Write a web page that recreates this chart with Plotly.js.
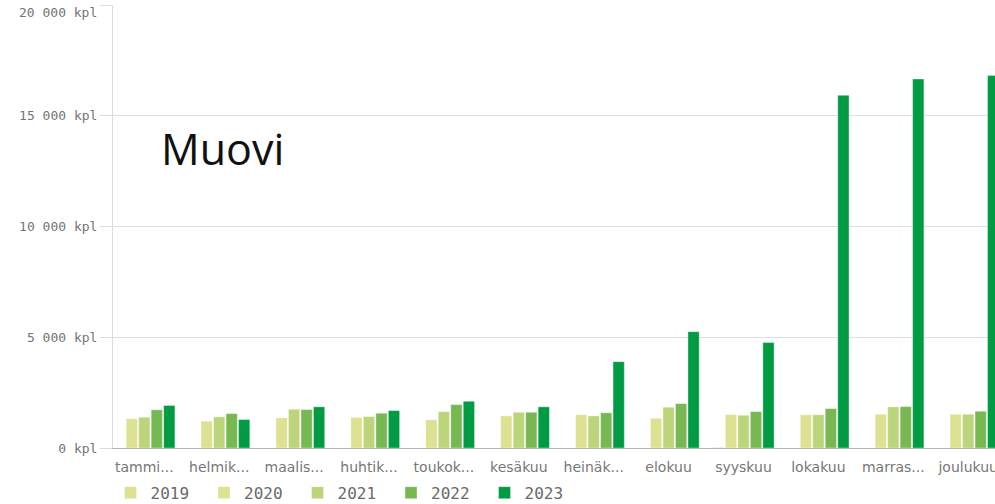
<!DOCTYPE html>
<html>
<head>
<meta charset="utf-8">
<script src="https://cdn.plot.ly/plotly-3.0.1.min.js"></script>
<style>
html,body{margin:0;padding:0;background:#fff;overflow:hidden;}
#chart{width:995px;height:504px;}
</style>
</head>
<body>
<div id="chart"></div>
<script>
var months = ["tammi...", "helmik...", "maalis...", "huhtik...", "toukok...", "kesäkuu", "heinäk...", "elokuu", "syyskuu", "lokakuu", "marras...", "joulukuu"];
var years = ["2019", "2020", "2021", "2022", "2023"];
var v2019 = [0, 0, 0, 0, 0, 0, 0, 0, 30, 0, 0, 0];
var v2020 = [1320, 1210, 1360, 1375, 1270, 1450, 1500, 1345, 1510, 1500, 1525, 1525];
var v2021 = [1390, 1405, 1750, 1420, 1645, 1615, 1450, 1840, 1480, 1500, 1860, 1525];
var v2022 = [1725, 1555, 1735, 1570, 1960, 1615, 1590, 2005, 1645, 1780, 1870, 1660];
var v2023 = [1920, 1285, 1860, 1690, 2110, 1860, 3900, 5255, 4760, 15930, 16665, 16830];
var colors = ["#dce291", "#dce291", "#bdd57a", "#77b853", "#009b43"];
var tickVals = [0, 5000, 10000, 15000, 20000];
var tickLabels = ["0 kpl", "5 000 kpl", "10 000 kpl", "15 000 kpl", "20 000 kpl"];
var chartTitle = "Muovi";

var series = [v2019, v2020, v2021, v2022, v2023];
var traces = series.map(function (vals, i) {
  return {
    type: "bar",
    name: years[i],
    x: months,
    y: vals,
    marker: {color: colors[i], line: {color: "rgba(255,255,255,0.45)", width: 0.8}},
    hoverinfo: "skip"
  };
});

// the top label is placed just below its gridline (as in the reference), the rest on the axis
var axisText = tickLabels.slice(0, tickLabels.length - 1).concat([""]);
var tickFont = {family: "DejaVu Sans Mono", size: 13, color: "#747474"};

var layout = {
  width: 995,
  height: 504,
  margin: {l: 113, r: 0, t: 5, b: 56, pad: 0, autoexpand: false},
  paper_bgcolor: "#ffffff",
  plot_bgcolor: "#ffffff",
  barmode: "group",
  bargap: 0.166,
  bargroupgap: 0.1,
  showlegend: true,
  legend: {
    orientation: "h",
    x: -0.0028,
    xanchor: "left",
    y: -0.101,
    yanchor: "middle",
    font: {family: "DejaVu Sans Mono", size: 16, color: "#6a6a6a"},
    itemwidth: 30,
    entrywidth: 48.5,
    entrywidthmode: "pixels",
    bgcolor: "rgba(0,0,0,0)",
    traceorder: "normal"
  },
  xaxis: {
    type: "category",
    range: [-0.418, 11.358],
    showline: true,
    linecolor: "#b5b5b5",
    linewidth: 1,
    showgrid: false,
    zeroline: false,
    ticks: "outside",
    ticklen: 6,
    tickcolor: "rgba(0,0,0,0)",
    tickfont: {family: "DejaVu Sans", size: 14, color: "#777777"},
    fixedrange: true
  },
  yaxis: {
    range: [0, 20010],
    tickmode: "array",
    tickvals: tickVals,
    ticktext: axisText,
    showline: true,
    linecolor: "#dcdcdc",
    linewidth: 1,
    showgrid: true,
    gridcolor: "#dedede",
    gridwidth: 1,
    zeroline: false,
    ticks: "outside",
    ticklen: 12,
    tickcolor: "#dcdcdc",
    tickfont: tickFont,
    fixedrange: true
  },
  annotations: [{
    text: chartTitle,
    xref: "paper",
    yref: "paper",
    x: 0.052,
    y: 0.675,
    xanchor: "left",
    yanchor: "middle",
    showarrow: false,
    font: {family: "Open Sans", size: 43, color: "#111111"}
  }, {
    text: tickLabels[tickLabels.length - 1],
    xref: "paper",
    yref: "paper",
    x: -15 / 882,
    y: (448 - 12.5) / 443,
    xanchor: "right",
    yanchor: "middle",
    showarrow: false,
    borderpad: 0,
    font: tickFont
  }]
};

Plotly.newPlot("chart", traces, layout, {displayModeBar: false, staticPlot: true});
</script>
</body>
</html>
